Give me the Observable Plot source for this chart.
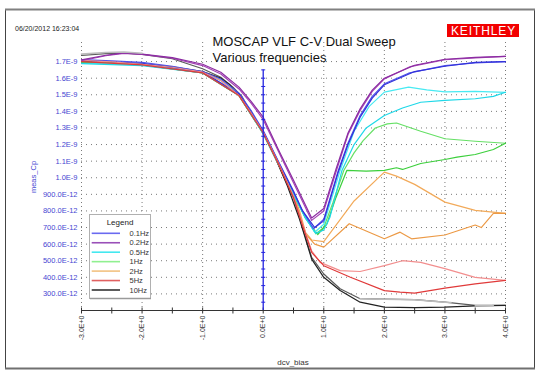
<!DOCTYPE html>
<html><head><meta charset="utf-8">
<script src="https://cdn.jsdelivr.net/npm/d3@7"></script>
<script src="https://cdn.jsdelivr.net/npm/@observablehq/plot@0.6"></script>
<style>html,body{margin:0;padding:0;background:#fff}#chart{width:543px;height:378px}</style>
</head><body><div id="chart"></div>
<script>
// ---- categories / ticks ----
const seriesNames = ["0.1Hz","0.2Hz","0.5Hz","1Hz","2Hz","5Hz","10Hz"];
const xTickValues = [-3,-2,-1,0,1,2,3,4];
const xTickLabels = ["-3.0E+0","-2.0E+0","-1.0E+0","0.0E+0","1.0E+0","2.0E+0","3.0E+0","4.0E+0"];
const xMinorTicks = [-3,-2.5,-2,-1.5,-1,-0.5,0,0.5,1,1.5,2,2.5,3,3.5,4];
const yTickValues = [1.7,1.6,1.5,1.4,1.3,1.2,1.1,1.0,0.9,0.8,0.7,0.6,0.5,0.4,0.3];
const yTickLabels = ["1.7E-9","1.6E-9","1.5E-9","1.4E-9","1.3E-9","1.2E-9","1.1E-9","1.0E-9","900.0E-12","800.0E-12","700.0E-12","600.0E-12","500.0E-12","400.0E-12","300.0E-12"];
const zeroAxisTicks = [0.25,0.3,0.35,0.4,0.45,0.5,0.55,0.6,0.65,0.7,0.75,0.8,0.85,0.9,0.95,1.0,1.05,1.1,1.15,1.2,1.25,1.3,1.35,1.4,1.45,1.5,1.55,1.6,1.65];
const xDomain = [-3, 4];
const yDomain = [0.2, 1.815]; // meas_Cp in units of 1E-9

// ---- series values (dcv_bias V, meas_Cp in 1E-9 F) ----
// 0.1 Hz
const bias_01_fwd = [-3,-2.5,-2,-1.5,-1,-0.7,-0.4,-0.2,0,0.25,0.5,0.65,0.83,1.0,1.24,1.4,1.6,1.8,2.0,2.4,3.0,3.5,4.0];
const cp_01_fwd   = [1.712,1.705,1.695,1.672,1.640,1.595,1.51,1.405,1.285,1.10,0.92,0.80,0.693,0.75,1.044,1.21,1.375,1.49,1.566,1.63,1.676,1.692,1.70];
const bias_01_rev = [4.0,3.5,3.0,2.5,2.0,1.8,1.6,1.4,1.24,1.0,0.85,0.65,0.5,0.25,0,-0.4,-1,-2,-3];
const cp_01_rev   = [1.70,1.695,1.672,1.64,1.56,1.48,1.365,1.20,1.035,0.74,0.70,0.80,0.915,1.095,1.28,1.505,1.638,1.69,1.708];
// 0.2 Hz
const bias_02_fwd = [-3,-2.6,-2.3,-2,-1.5,-1,-0.7,-0.4,-0.2,0,0.25,0.5,0.8,1.0,1.21,1.4,1.6,1.8,2.0,2.43,3.0,3.5,4.0];
const cp_02_fwd   = [1.705,1.735,1.750,1.743,1.72,1.676,1.625,1.535,1.45,1.35,1.16,0.97,0.743,0.80,1.044,1.26,1.405,1.52,1.596,1.67,1.711,1.722,1.731];
const bias_02_rev = [4.0,3.5,3.0,2.5,2.0,1.8,1.6,1.4,1.2,1.0,0.8,0.5,0.25,0,-0.2,-0.4,-0.7,-1,-1.5,-2,-2.3,-2.6,-3];
const cp_02_rev   = [1.731,1.725,1.714,1.678,1.60,1.528,1.415,1.27,1.05,0.815,0.758,0.985,1.17,1.365,1.46,1.546,1.636,1.684,1.724,1.745,1.752,1.738,1.71];
// 0.5 Hz
const bias_05_fwd = [-3,-2.5,-2,-1.5,-1,-0.7,-0.4,-0.2,0,0.25,0.5,0.7,0.85,1.0,1.27,1.5,1.75,2.0,2.4,2.7,3.0,3.5,4.0];
const cp_05_fwd   = [1.690,1.688,1.678,1.662,1.634,1.588,1.50,1.39,1.27,1.09,0.905,0.76,0.672,0.72,1.044,1.28,1.43,1.516,1.546,1.53,1.518,1.52,1.515];
const bias_05_rev = [4.0,3.8,3.5,3.0,2.6,2.3,2.0,1.7,1.5,1.3,1.1,1.0,0.87,0.7,0.5,0.25,0,-0.4,-1,-2,-3];
const cp_05_rev   = [1.515,1.49,1.476,1.466,1.455,1.42,1.375,1.30,1.20,1.044,0.76,0.685,0.665,0.755,0.90,1.085,1.265,1.495,1.632,1.676,1.688];
// 1 Hz
const bias_1_fwd = [-3,-2.5,-2,-1.5,-1,-0.7,-0.4,-0.2,0,0.25,0.5,0.7,0.87,1.0,1.15,1.33,1.5,1.65,1.85,2.05,2.2,2.6,3.0,3.5,4.0];
const cp_1_fwd   = [1.697,1.692,1.68,1.664,1.634,1.588,1.50,1.39,1.27,1.09,0.905,0.76,0.662,0.70,0.85,1.044,1.15,1.224,1.30,1.325,1.33,1.28,1.235,1.22,1.208];
const bias_1_rev = [4.0,3.8,3.5,3.2,3.0,2.6,2.3,2.2,2.0,1.7,1.38,1.2,1.05,0.9,0.7,0.5,0.25,0,-0.4,-1,-2,-3];
const cp_1_rev   = [1.208,1.17,1.14,1.124,1.11,1.086,1.05,1.06,1.044,1.04,1.044,0.88,0.72,0.658,0.755,0.90,1.085,1.265,1.495,1.632,1.68,1.695];
// 2 Hz
const bias_2_fwd = [-3,-2,-1,-0.7,-0.4,-0.2,0,0.25,0.5,0.6,0.7,0.8,1.0,1.5,2.0,2.2,2.5,3.0,3.5,4.0];
const cp_2_fwd   = [1.695,1.68,1.634,1.588,1.50,1.39,1.27,1.09,0.905,0.80,0.67,0.625,0.615,0.86,1.034,1.01,0.96,0.853,0.803,0.785];
const bias_2_rev = [4.0,3.8,3.6,3.5,3.0,2.45,2.26,2.0,1.42,1.0,0.85,0.7,0.5,0.25,0,-0.4,-1,-2,-3];
const cp_2_rev   = [0.785,0.785,0.70,0.715,0.655,0.632,0.672,0.632,0.723,0.582,0.60,0.66,0.90,1.085,1.265,1.495,1.632,1.68,1.695];
// 5 Hz
const bias_5_fwd = [-3,-2.5,-2,-1.5,-1,-0.7,-0.4,-0.2,0,0.25,0.5,0.65,0.8,0.94,1.27,1.6,2.0,2.3,2.6,3.0,3.5,4.0];
const cp_5_fwd   = [1.707,1.698,1.683,1.666,1.636,1.586,1.496,1.39,1.275,1.09,0.89,0.72,0.56,0.49,0.44,0.435,0.47,0.50,0.49,0.452,0.40,0.381];
const bias_5_rev = [4.0,3.5,3.0,2.5,2.26,2.0,1.44,1.0,0.8,0.65,0.5,0.25,0,-0.4,-1,-2,-3];
const cp_5_rev   = [0.381,0.361,0.335,0.305,0.311,0.32,0.40,0.47,0.55,0.71,0.88,1.085,1.27,1.495,1.632,1.68,1.70];
// 10 Hz
const bias_10_fwd = [-3,-2.6,-2.3,-2,-1.5,-1,-0.7,-0.5,-0.35,-0.2,0,0.25,0.5,0.65,0.8,1.0,1.27,1.6,2.0,2.5,3.0,3.5,4.0];
const cp_10_fwd   = [1.737,1.748,1.751,1.743,1.717,1.657,1.606,1.546,1.49,1.39,1.27,1.08,0.88,0.70,0.52,0.42,0.331,0.271,0.268,0.265,0.25,0.231,0.231];
const bias_10_rev = [4.0,3.5,3.0,2.5,2.0,1.6,1.27,1.0,0.8,0.6,0.4,0.2,0,-0.2,-0.4,-0.55,-0.7,-1,-1.5,-2,-3];
const cp_10_rev   = [0.231,0.228,0.22,0.217,0.22,0.25,0.32,0.40,0.51,0.75,0.95,1.12,1.265,1.40,1.50,1.56,1.60,1.64,1.668,1.685,1.702];
// extra unlabeled grey trace (partly hidden, NaN = gap)
const bias_grey = [-3,-2.6,-2.3,-2.0,NaN,1.6,2.0,2.5,3.0,3.1,NaN,3.5,3.65,3.8];
const cp_grey   = [1.745,1.755,1.758,1.75,NaN,0.271,0.268,0.265,0.25,0.248,NaN,0.229,0.229,0.229];

// ---- styles ----
const fwdColors = ["#5252ea","#a444b4","#48eaf2","#66e066","#f2aa5a","#f28e8e","#5a5a5a"];
const revColors = ["#3232da","#8c2ca2","#1ed8e8","#3ccf3c","#ec9a46","#e03a3a","#222222"];
const legendColors = ["#6a6af0","#9a50b8","#44e8f0","#90f090","#f2c282","#e06060","#333333"];
const drawOrder = ["10Hz","2Hz","1Hz","0.5Hz","0.1Hz","5Hz","0.2Hz"];

const sweepArrays = {
  "0.1Hz": [bias_01_fwd, cp_01_fwd, bias_01_rev, cp_01_rev],
  "0.2Hz": [bias_02_fwd, cp_02_fwd, bias_02_rev, cp_02_rev],
  "0.5Hz": [bias_05_fwd, cp_05_fwd, bias_05_rev, cp_05_rev],
  "1Hz":   [bias_1_fwd, cp_1_fwd, bias_1_rev, cp_1_rev],
  "2Hz":   [bias_2_fwd, cp_2_fwd, bias_2_rev, cp_2_rev],
  "5Hz":   [bias_5_fwd, cp_5_fwd, bias_5_rev, cp_5_rev],
  "10Hz":  [bias_10_fwd, cp_10_fwd, bias_10_rev, cp_10_rev]
};
const toRows = (xs, ys) => xs.map((x, i) => ({x, y: ys[i]}));

const hTick = {draw(ctx, size){ const r = Math.sqrt(size/Math.PI); ctx.moveTo(-r,0); ctx.lineTo(r,0); }};
const vTick = {draw(ctx, size){ const r = Math.sqrt(size/Math.PI); ctx.moveTo(0,-r); ctx.lineTo(0,r); }};

const lineMarks = [];
for (const name of drawOrder) {
  const i = seriesNames.indexOf(name);
  const [fx, fy, rx, ry] = sweepArrays[name];
  lineMarks.push(Plot.line(toRows(fx, fy), {x: "x", y: "y", stroke: fwdColors[i], strokeWidth: 1.2}));
  lineMarks.push(Plot.line(toRows(rx, ry), {x: "x", y: "y", stroke: revColors[i], strokeWidth: 1.2}));
}
lineMarks.push(Plot.line(toRows(bias_grey, cp_grey), {x: "x", y: "y", stroke: "#bcbcbc", strokeWidth: 1.6}));

const svg = Plot.plot({
  width: 543, height: 378,
  marginLeft: 81, marginRight: 38, marginTop: 42, marginBottom: 68,
  style: {background: "#fff", fontFamily: "'Liberation Sans', Arial, sans-serif", overflow: "visible"},
  x: {domain: xDomain},
  y: {domain: yDomain},
  marks: [
    Plot.gridY(yTickValues, {stroke: "#7a7a7a", strokeOpacity: 1, strokeDasharray: "1,4"}),
    Plot.gridX(xTickValues.filter(d => d !== 0), {stroke: "#7a7a7a", strokeOpacity: 1, strokeDasharray: "1,3"}),
    Plot.ruleY([yDomain[0]], {stroke: "#333", strokeWidth: 1}),
    Plot.dot(xMinorTicks, {x: d => d, y: yDomain[0], symbol: vTick, r: 3, stroke: "#333", fill: "none", strokeWidth: 1}),
    ...lineMarks,
    Plot.ruleX([0], {y1: yDomain[0], y2: d3.max(zeroAxisTicks), stroke: "#2424e0", strokeWidth: 1.3}),
    Plot.dot(zeroAxisTicks, {x: 0, y: d => d, symbol: hTick, r: 2, stroke: "#2424e0", fill: "none", strokeWidth: 1}),
    Plot.axisY({ticks: yTickValues, tickFormat: d => yTickLabels[yTickValues.indexOf(d)], tickSize: 0, tickPadding: 4, fill: "#4646d2", fontSize: 7.5, label: null}),
    Plot.axisX({ticks: xTickValues, tickFormat: d => xTickLabels[xTickValues.indexOf(d)], tickRotate: -90, tickSize: 0, tickPadding: 5, fill: "#333", fontSize: 7, label: null})
  ]
});

const s = d3.select(svg);
const ff = "'Liberation Sans', Arial, sans-serif";
const txt = (x, y, str, size, fill, anchor) => s.append("text").attr("x", x).attr("y", y)
  .attr("text-anchor", anchor).attr("font-family", ff).attr("font-size", size).attr("fill", fill).text(str);
// outer frame
s.append("rect").attr("x", 5.5).attr("y", 9.5).attr("width", 529).attr("height", 359)
  .attr("fill", "none").attr("stroke", "#444").attr("stroke-width", 1);
s.append("line").attr("x1", 5).attr("x2", 535).attr("y1", 9.5).attr("y2", 9.5).attr("stroke", "#808080").attr("stroke-width", 2);
s.append("line").attr("x1", 5).attr("x2", 535).attr("y1", 368.5).attr("y2", 368.5).attr("stroke", "#707070").attr("stroke-width", 2);
// timestamp
txt(15, 31, "06/20/2012 16:23:04", 7, "#222", "start");
// logo
s.append("rect").attr("x", 447).attr("y", 24).attr("width", 72).attr("height", 13).attr("fill", "#f20000");
txt(483.5, 34.5, "KEITHLEY", 12, "#fff", "middle").attr("letter-spacing", 0.9);
// titles
txt(212.5, 46, "MOSCAP VLF C-V Dual Sweep", 13, "#111", "start");
txt(212.5, 62, "Various frequencies", 13, "#111", "start");
// axis titles
txt(293, 364.5, "dcv_bias", 8, "#333", "middle");
s.append("text").attr("transform", "translate(36,177) rotate(-90)").attr("text-anchor", "middle")
  .attr("font-family", ff).attr("font-size", 7.5).attr("fill", "#4646d2").text("meas_Cp");
// legend
const lg = s.append("g");
lg.append("rect").attr("x", 89.5).attr("y", 214.5).attr("width", 61).attr("height", 84).attr("fill", "#fff").attr("stroke", "#b0b0b0");
lg.append("line").attr("x1", 90).attr("x2", 151).attr("y1", 298.5).attr("y2", 298.5).attr("stroke", "#9a9a9a").attr("stroke-width", 1.5);
lg.append("text").attr("x", 120).attr("y", 224.8).attr("text-anchor", "middle").attr("font-family", ff).attr("font-size", 8).attr("fill", "#222").text("Legend");
seriesNames.forEach((name, i) => {
  const yy = 233.3 + i * 9.45;
  lg.append("line").attr("x1", 91.7).attr("x2", 120).attr("y1", yy).attr("y2", yy).attr("stroke", legendColors[i]).attr("stroke-width", 1.6);
  lg.append("text").attr("x", 129.5).attr("y", yy + 2.7).attr("text-anchor", "start").attr("font-family", ff).attr("font-size", 7.5).attr("fill", "#333").text(name);
});

document.getElementById("chart").appendChild(svg);
</script></body></html>
